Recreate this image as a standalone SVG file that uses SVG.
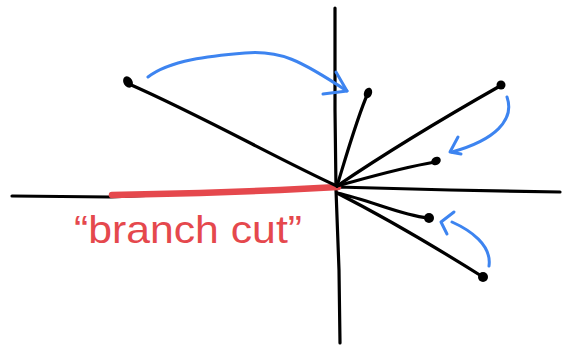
<svg xmlns="http://www.w3.org/2000/svg" width="563" height="347" viewBox="0 0 563 347">
<style>
.ink{fill:none;stroke:#000;stroke-width:3.2;stroke-linecap:round;stroke-linejoin:round}
.blue{fill:none;stroke:#3d84f0;stroke-width:3;stroke-linecap:round;stroke-linejoin:round}
.dot{fill:#000}
.cut{fill:none;stroke:#e5484d;stroke-width:6.5;stroke-linecap:round}
.lbl{font-family:"Liberation Sans",Arial,sans-serif;font-size:39px;fill:#e5484d}
</style>
<rect width="563" height="347" fill="#fff"/>
<g id="axes">
<path class="ink" d="M335,8 L335,110 L336,190 L339,270 L340,343"/>
<path class="ink" d="M12,196 L110,197 L230,192 L337,187 L450,190 L560,192"/>
</g>
<g id="branch-cut">
<path class="cut" d="M112,195 L200,193 L280,190 L338,187"/>
<text class="lbl" x="74" y="243" textLength="228" lengthAdjust="spacingAndGlyphs">“branch cut”</text>
</g>
<g id="connectors">
<path class="ink" d="M129,84 C200,115 280,160 337,186"/>
<path class="ink" d="M337,186 C348,150 358,115 368,93"/>
<path class="ink" d="M337,186 C390,150 440,120 500,86"/>
<path class="ink" d="M337,186 C370,177 400,168 435,162"/>
<path class="ink" d="M337,193 C370,200 400,215 428,218"/>
<path class="ink" d="M337,193 C390,220 440,250 483,277"/>
</g>
<g id="points">
<ellipse id="p1" class="dot" cx="128" cy="82" rx="4.5" ry="6" transform="rotate(-30 128 82)"/>
<ellipse id="p2" class="dot" cx="368" cy="93" rx="4" ry="5.5" transform="rotate(20 368 93)"/>
<circle id="p3" class="dot" cx="501" cy="85" r="4.5"/>
<ellipse id="p4" class="dot" cx="436" cy="161" rx="5" ry="4" transform="rotate(-30 436 161)"/>
<circle id="p5" class="dot" cx="429" cy="218" r="5"/>
<circle id="p6" class="dot" cx="483" cy="277" r="5"/>
</g>
<g id="arrows">
<path class="blue" d="M148,77 C170,60 210,56 245,53 C280,50 300,60 347,91"/>
<path class="blue" d="M336,72 L347,91 L323,94"/>
<path class="blue" d="M507,97 C515,120 495,140 452,152"/>
<path class="blue" d="M458,137 L450,152 L461,154"/>
<path class="blue" d="M489,266 C492,245 470,230 452,222"/>
<path class="blue" d="M454,212 L441,222 L447,234"/>
</g>
</svg>
